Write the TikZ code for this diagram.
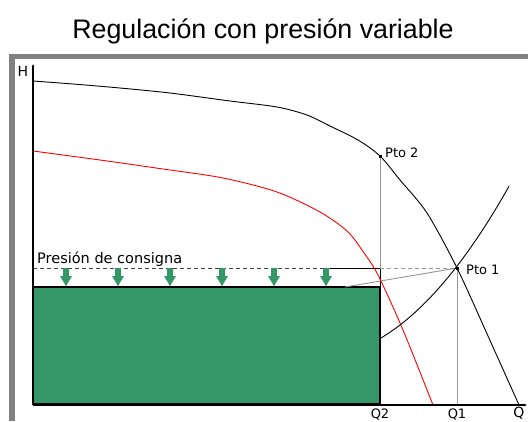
\documentclass[tikz,border=0pt]{standalone}
\usepackage{fontspec}
\setmainfont{Liberation Sans}
\newfontfamily\lblfont{DejaVu Sans}
\usetikzlibrary{arrows.meta}
\definecolor{pgreen}{RGB}{53,151,104}
\definecolor{framegray}{RGB}{128,128,128}
\definecolor{guidegray}{RGB}{150,150,150}
\begin{document}
\begin{tikzpicture}[x=1pt,y=-1pt,
  lbl/.style={font=\lblfont\fontsize{13}{15}\selectfont, inner sep=0pt},
  guide/.style={draw=guidegray, line width=0.9pt},
  curve/.style={line width=0.9pt},
  garrow/.style={fill=pgreen},
  axisline/.style={line width=1.3pt, -{Latex[length=3pt,width=3pt]}}]
\useasboundingbox (0,0) rectangle (528,421);
\fill[white] (0,0) rectangle (528,421);
% frame
\fill[framegray] (9,54) rectangle (528,59);
\fill[framegray] (9,54) rectangle (15,421);
% title
\node[font=\fontsize{26.8}{30}\selectfont, anchor=base, inner sep=0pt] (title) at (263,38) {Regulación con presión variable};
% key points
\coordinate (O) at (33,405);
\coordinate (Htip) at (33,64);
\coordinate (Qtip) at (527,405);
\coordinate (Pto2) at (380,156);
\coordinate (Pto1) at (457,268);
\coordinate (Q2) at (380,405);
\coordinate (Q1) at (457,405);
\coordinate (Bx) at (380,268);
\coordinate (Gs) at (345,287);
% green area
\fill[pgreen] (33,287) rectangle (380,404);
\draw[line width=1.3pt] (33,287) -- (380,287) -- (380,404) -- (33,404);
% pressure line
\draw[draw=black!75, line width=0.9pt, dash pattern=on 4pt off 3pt] (33,268) -- (330,268);
\draw[line width=1pt] (330,268) -- (Bx) -- (380,287);
\draw[guide, dash pattern=on 4pt off 3pt] (Bx) -- (Pto1);
\draw[guide] (Gs) -- (Pto1);
\draw[guide] (Pto2) -- (Bx);
\draw[guide] (Pto1) -- (Q1);
% green arrows
\foreach \ax in {66,118,170,222,274,326}{
  \fill[garrow] (\ax-3,268) -- (\ax+3,268) -- (\ax+3,276) -- (\ax+6,276) -- (\ax,286) -- (\ax-6,276) -- (\ax-3,276) -- cycle;
}
% red curve
\draw[curve, red] plot[smooth, tension=0.5] coordinates {(33,151) (100,160) (163,169) (223,178) (277,192) (320,212) (347,231) (362,250) (378,275) (403,330) (433,405)};
% pump curve
\draw[curve] plot[smooth, tension=0.5] coordinates {(33,81) (73,84) (120,88) (170,93) (230,101) (277,107) (307,115) (330,126) (358,140) (380,156) (400,180) (427,213) (457,268) (488,336) (519,405)};
% system curve
\draw[curve] plot[domain=380:509, samples=40] (\x, {-104.1 + 2.916*\x - 0.004605*\x*\x});
% axes
\draw[axisline] (O) -- (Htip);
\draw[axisline] (O) -- (Qtip);
% markers
\fill (Pto2) ++(-1.5,-1.5) rectangle ++(3,3);
\fill (Pto1) ++(-1.5,-1.5) rectangle ++(3,3);
% labels
\node[lbl, anchor=west] (lp2) at (385,153) {Pto 2};
\node[lbl, anchor=west] (lp1) at (466,270) {Pto 1};
\node[lbl, font=\lblfont\fontsize{14}{16}\selectfont] (lh) at (23,71) {H};
\node[lbl, anchor=north] (lq2) at (380,409) {Q2};
\node[lbl, anchor=north] (lq1) at (457,409) {Q1};
\node[lbl, anchor=north, font=\lblfont\fontsize{14}{16}\selectfont] (lq) at (519,407) {Q};
\node[lbl, anchor=base west, font=\lblfont\fontsize{14.5}{16}\selectfont] (lc) at (37,263) {Presión de consigna};
\end{tikzpicture}
\end{document}
